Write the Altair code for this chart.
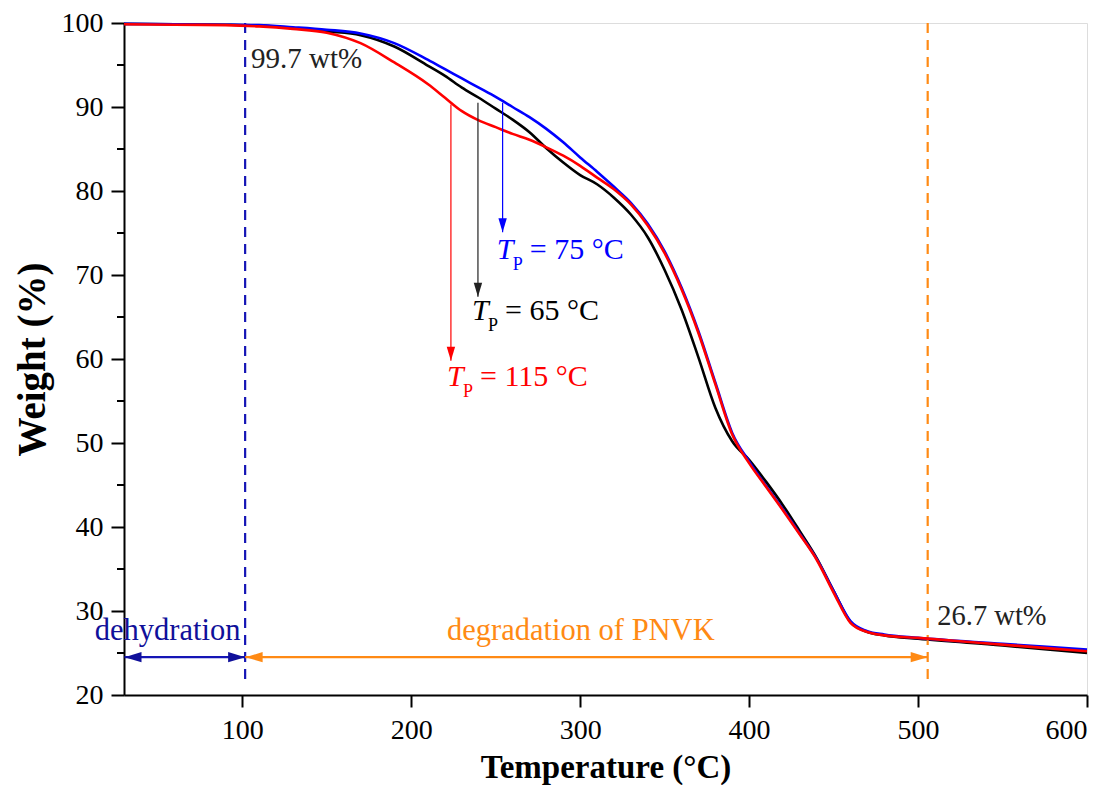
import altair as alt
import pandas as pd

# ---------------- data ----------------
temperature = [30, 60, 90, 110, 130, 150, 170, 190, 210, 220, 230, 240, 250, 260,
               270, 280, 290, 300, 310, 320, 330, 340, 350, 360, 370, 380, 390,
               400, 410, 420, 430, 440, 450, 460, 470, 480, 500, 550, 600]
weight_tp65 = [99.9, 99.85, 99.8, 99.7, 99.4, 99.0, 98.55, 97.2, 94.9, 93.7, 92.3,
               91.1, 89.8, 88.5, 87.0, 85.1, 83.4, 81.9, 80.8, 79.2, 77.2, 74.5,
               70.6, 65.9, 60.2, 54.2, 50.2, 48.0, 45.4, 42.6, 39.5, 36.3, 32.4,
               28.7, 27.5, 27.1, 26.7, 25.9, 25.0]
weight_tp75 = [99.9, 99.85, 99.8, 99.75, 99.5, 99.2, 98.75, 97.6, 95.6, 94.5, 93.4,
               92.3, 91.2, 90.0, 88.8, 87.4, 85.8, 84.0, 82.3, 80.5, 78.6, 76.1,
               72.8, 68.5, 63.3, 57.2, 51.2, 47.8, 44.9, 42.1, 39.2, 36.2, 32.4,
               28.8, 27.6, 27.2, 26.8, 26.1, 25.4]
weight_tp115 = [99.85, 99.8, 99.75, 99.6, 99.3, 98.85, 97.6, 95.3, 92.7, 91.1, 89.5,
                88.4, 87.6, 86.8, 86.1, 85.2, 84.2, 83.0, 81.6, 80.2, 78.4, 75.9,
                72.6, 68.3, 63.1, 57.0, 51.0, 47.6, 44.8, 42.0, 39.1, 36.1, 32.2,
                28.6, 27.5, 27.1, 26.8, 26.0, 25.2]

x_ticks = [100, 200, 300, 400, 500, 600]
y_ticks = [20, 30, 40, 50, 60, 70, 80, 90, 100]
y_minor_ticks = [25, 35, 45, 55, 65, 75, 85, 95]

dehydration_end = 101.7
degradation_end = 505.7
dashed_top = 100.0
dashed_bottom = 21.4
arrow_level = 24.5
x_start = 30.3

# vertical arrows: red (115), black (65), blue (75)
tp_arrow_x = [223.5, 239.5, 254.1]
tp_arrow_top = [90.3, 90.5, 90.5]
tp_arrow_tip = [59.8, 67.4, 75.1]
tp_arrow_color = ["#FF0000", "#222222", "#0000FF"]

# T_P labels
tp_label_x = [221.2, 236.0, 250.7]
tp_label_y = [56.8, 64.6, 71.9]
tp_label_rest = ["= 115 °C", "= 65 °C", "= 75 °C"]

FONT = "Liberation Serif"
BLUE = "#0000FF"
RED = "#FF0000"
NAVY = "#10109A"
ORANGE = "#FF8A14"

xs = alt.Scale(domain=[30, 600], nice=False, zero=False)
ys = alt.Scale(domain=[20, 100], nice=False, zero=False)

axis_x = alt.Axis(values=x_ticks, title="Temperature (°C)", grid=False, format="d",
                  tickSize=12, tickWidth=2, tickColor="black",
                  domainColor="black", domainWidth=2,
                  labelFont=FONT, labelFontSize=28, labelColor="black", labelPadding=9,
                  titleFont=FONT, titleFontSize=33, titleFontWeight="bold",
                  titleColor="black", titleBaseline="alphabetic", titleY=82)
axis_y = alt.Axis(values=y_ticks, title="Weight (%)", grid=False, format="d",
                  tickSize=13, tickWidth=2, tickColor="black",
                  domainColor="black", domainWidth=2,
                  labelFont=FONT, labelFontSize=28, labelColor="black", labelPadding=8,
                  titleFont=FONT, titleFontSize=39, titleFontWeight="bold",
                  titleColor="black", titlePadding=9)


def curve(values, color, with_axes=False):
    d = pd.DataFrame({"T": temperature, "W": values})
    ch = alt.Chart(d).mark_line(color=color, strokeWidth=2.6, interpolate="monotone")
    if with_axes:
        return ch.encode(x=alt.X("T:Q", scale=xs, axis=axis_x),
                         y=alt.Y("W:Q", scale=ys, axis=axis_y))
    return ch.encode(x=alt.X("T:Q", scale=xs), y=alt.Y("W:Q", scale=ys))


c65 = curve(weight_tp65, "#000000", with_axes=True)
c75 = curve(weight_tp75, BLUE)
c115 = curve(weight_tp115, RED)

# minor y ticks
minor = alt.Chart(pd.DataFrame({"W": y_minor_ticks})).mark_rule(
    color="black", strokeWidth=2).encode(
    y=alt.Y("W:Q", scale=ys), x=alt.value(-7), x2=alt.value(0))

# dashed vertical lines
dash_df = pd.DataFrame({"T": [dehydration_end, degradation_end],
                        "W": [dashed_top, dashed_top],
                        "W2": [dashed_bottom, dashed_bottom],
                        "c": ["navy", "orange"]})
dashes = alt.Chart(dash_df).mark_rule(strokeWidth=2.2, strokeDash=[10, 7]).encode(
    x=alt.X("T:Q", scale=xs), y=alt.Y("W:Q", scale=ys), y2="W2:Q",
    color=alt.Color("c:N", scale=alt.Scale(domain=["navy", "orange"],
                                           range=["#1515B5", ORANGE]), legend=None))

# horizontal arrows
harr_df = pd.DataFrame({"T": [x_start, dehydration_end], "T2": [dehydration_end, degradation_end],
                        "W": [arrow_level, arrow_level], "c": ["navy", "orange"]})
harr = alt.Chart(harr_df).mark_rule(strokeWidth=2.2).encode(
    x=alt.X("T:Q", scale=xs), x2="T2:Q", y=alt.Y("W:Q", scale=ys),
    color=alt.Color("c:N", scale=alt.Scale(domain=["navy", "orange"],
                                           range=[NAVY, ORANGE]), legend=None))

RIGHT_HEAD = "M0,0L-1,-0.3L-1,0.3Z"
LEFT_HEAD = "M0,0L1,-0.3L1,0.3Z"
DOWN_HEAD = "M0,0L-0.3,-1L0.3,-1Z"


def head(tx, wy, color, shape, size):
    return alt.Chart(pd.DataFrame({"T": [tx], "W": [wy]})).mark_point(
        shape=shape, filled=True, color=color, opacity=1, size=size, strokeWidth=0).encode(
        x=alt.X("T:Q", scale=xs), y=alt.Y("W:Q", scale=ys))


heads = [
    head(x_start, arrow_level, NAVY, LEFT_HEAD, 1156),
    head(dehydration_end, arrow_level, NAVY, RIGHT_HEAD, 1156),
    head(dehydration_end + 0.3, arrow_level, ORANGE, LEFT_HEAD, 1156),
    head(degradation_end, arrow_level, ORANGE, RIGHT_HEAD, 1156),
]

# vertical arrows
varr_layers = []
for tx, top, tip, col in zip(tp_arrow_x, tp_arrow_top, tp_arrow_tip, tp_arrow_color):
    d = pd.DataFrame({"T": [tx], "W": [top], "W2": [tip]})
    varr_layers.append(alt.Chart(d).mark_rule(color=col, strokeWidth=1.2).encode(
        x=alt.X("T:Q", scale=xs), y=alt.Y("W:Q", scale=ys), y2="W2:Q"))
    varr_layers.append(head(tx, tip, col, DOWN_HEAD, 784))

# T_P labels
label_layers = []
for tx, wy, rest, col in zip(tp_label_x, tp_label_y, tp_label_rest,
                             [RED, "#000000", BLUE]):
    d = pd.DataFrame({"T": [tx], "W": [wy]})
    enc = dict(x=alt.X("T:Q", scale=xs), y=alt.Y("W:Q", scale=ys))
    label_layers.append(alt.Chart(d).mark_text(
        text="T", font=FONT, fontSize=30, fontStyle="italic", color=col,
        align="left", baseline="alphabetic").encode(**enc))
    label_layers.append(alt.Chart(d).mark_text(
        text="P", font=FONT, fontSize=18, color=col, dx=16, dy=11,
        align="left", baseline="alphabetic").encode(**enc))
    label_layers.append(alt.Chart(d).mark_text(
        text=rest, font=FONT, fontSize=30, color=col, dx=33,
        align="left", baseline="alphabetic").encode(**enc))


def text_at(tx, wy, txt, col, size, align="left"):
    return alt.Chart(pd.DataFrame({"T": [tx], "W": [wy]})).mark_text(
        text=txt, font=FONT, fontSize=size, color=col, align=align,
        baseline="alphabetic").encode(x=alt.X("T:Q", scale=xs), y=alt.Y("W:Q", scale=ys))


texts = [
    text_at(105.2, 94.7, "99.7 wt%", "#222222", 29),
    text_at(511.4, 28.3, "26.7 wt%", "#222222", 28.5),
    text_at(55.8, 26.5, "dehydration", NAVY, 30.5, align="center"),
    text_at(300.4, 26.5, "degradation of PNVK", ORANGE, 30.5, align="center"),
]

chart = alt.layer(
    c65, dashes, minor, c75, c115, harr, *heads, *varr_layers, *label_layers, *texts
).properties(
    width=963, height=672,
    autosize=alt.AutoSizeParams(type="none"),
    padding={"left": 116, "top": 15, "right": 23, "bottom": 90},
).configure_view(stroke="#333333", strokeWidth=2).configure(background="white")

chart.save("out.html", embed_options={"renderer": "svg", "actions": False})
